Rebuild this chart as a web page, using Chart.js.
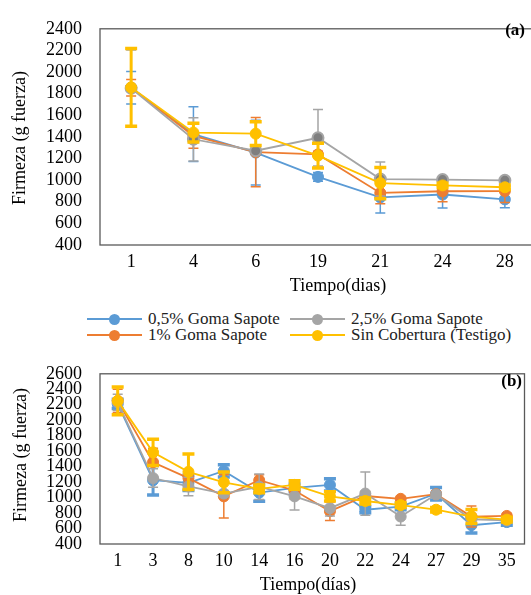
<!DOCTYPE html>
<html>
<head>
<meta charset="utf-8">
<script src="https://cdn.jsdelivr.net/npm/chart.js@4.4.1/dist/chart.umd.min.js"></script>
<style>
  html, body { margin: 0; padding: 0; background: #fff; overflow: hidden; width: 531px; height: 595px; }
  .box { position: absolute; }
  .leg { position: absolute; font: 17px "Liberation Serif", "Times New Roman", serif; color: #222; white-space: nowrap; line-height: 16px; }
  .leg .ln { display: inline-block; position: relative; width: 55px; height: 2px; vertical-align: middle; margin-right: 6px; top: -1px; }
  .leg .ln i { position: absolute; left: 22px; top: -4.5px; width: 11px; height: 11px; border-radius: 50%; }
</style>
</head>
<body>
<div class="box" style="left:0;top:0;width:560px;height:300px"><canvas id="chartA" width="560" height="300"></canvas></div>
<div class="box" style="left:0;top:345px;width:531px;height:250px"><canvas id="chartB" width="531" height="250"></canvas></div>
<div id="legend"></div>
<script>
// colours (Excel palette)
var BLUE = '#5B9BD5', ORANGE = '#ED7D31', GRAY = '#A5A5A5', YELLOW = '#FFC000';

// panel (a)
var daysA = ['1', '4', '6', '19', '21', '24', '28'];
var blueA = [1855, 1425, 1255, 1030, 840, 867, 822];
var orangeA = [1855, 1410, 1260, 1238, 882, 897, 899];
var grayA = [1850, 1378, 1272, 1392, 1010, 1005, 998];
var yellowA = [1858, 1440, 1430, 1227, 973, 951, 934];
var blueErrA = [150, 253, 300, 40, 145, 125, 78];
var orangeErrA = [77, 115, 320, 30, 100, 96, 105];
var grayErrA = [355, 200, 25, 262, 157, 20, 15];
var yellowErrA = [360, 87, 110, 115, 145, 20, 20];
var yTicksA = [400, 2400, 200];

// panel (b)
var daysB = ['1', '3', '8', '10', '14', '16', '20', '22', '24', '27', '29', '35'];
var blueB = [2210, 1224, 1190, 1345, 1064, 1125, 1164, 843, 884, 1050, 643, 683];
var orangeB = [2250, 1457, 1252, 1016, 1224, 1092, 824, 1020, 984, 1044, 755, 763];
var grayB = [2230, 1252, 1144, 1052, 1140, 1016, 863, 1052, 755, 1040, 720, 705];
var yellowB = [2250, 1585, 1333, 1197, 1112, 1164, 1016, 956, 903, 843, 755, 715];
var blueErrB = [60, 190, 100, 80, 110, 50, 80, 40, 40, 80, 100, 40];
var orangeErrB = [150, 180, 60, 280, 70, 110, 120, 60, 30, 40, 135, 30];
var grayErrB = [105, 120, 120, 40, 165, 175, 100, 280, 112, 40, 60, 30];
var yellowErrB = [180, 170, 230, 135, 50, 55, 60, 40, 30, 30, 90, 30];
var yTicksB = [400, 2600, 200];

var seriesNames = ['0,5% Goma Sapote', '1% Goma Sapote', '2,5% Goma Sapote', 'Sin Cobertura (Testigo)'];

var SERIF = '"Liberation Serif", "Times New Roman", serif';

// error bars drawn under each series, using the chart scales
var errorBars = {
    id: 'errorBars',
    beforeDatasetDraw: function(chart, args) {
        var ds = chart.data.datasets[args.index];
        if (!ds.errors) return;
        var ctx = chart.ctx, y = chart.scales.y;
        ctx.save();
        ctx.strokeStyle = ds.borderColor;
        args.meta.data.forEach(function(pt, i) {
            var hi = y.getPixelForValue(ds.data[i] + ds.errors[i]);
            var lo = y.getPixelForValue(ds.data[i] - ds.errors[i]);
            ctx.lineWidth = ds.errStem;
            ctx.beginPath();
            ctx.moveTo(pt.x, hi);
            ctx.lineTo(pt.x, lo);
            ctx.stroke();
            ctx.lineWidth = ds.errCap;
            ctx.beginPath();
            ctx.moveTo(pt.x - ds.capHalf, hi); ctx.lineTo(pt.x + ds.capHalf, hi);
            ctx.moveTo(pt.x - ds.capHalf, lo); ctx.lineTo(pt.x + ds.capHalf, lo);
            ctx.stroke();
        });
        ctx.restore();
    }
};

// frame round the plot + axis titles + panel letter
var panelText = {
    id: 'panelText',
    afterDraw: function(chart, args, o) {
        var ctx = chart.ctx, a = chart.chartArea;
        ctx.save();
        ctx.strokeStyle = '#595959';
        ctx.lineWidth = 1.3;
        ctx.strokeRect(a.left, a.top, a.right - a.left, a.bottom - a.top);
        ctx.fillStyle = '#000';
        ctx.textAlign = 'center';
        ctx.textBaseline = 'middle';
        ctx.font = '18px ' + SERIF;
        ctx.fillText(o.xTitle, o.xTitleX, o.xTitleY);
        ctx.save();
        ctx.translate(o.yTitleX, o.yTitleY);
        ctx.rotate(-Math.PI / 2);
        ctx.fillText(o.yTitle, 0, 0);
        ctx.restore();
        ctx.font = 'bold 17px ' + SERIF;
        ctx.textAlign = 'right';
        ctx.fillText(o.label, o.labelX, o.labelY);
        ctx.restore();
    }
};

function series(label, color, data, errs, thick, pointFill) {
    return {
        label: label,
        data: data,
        errors: errs,
        borderColor: color,
        backgroundColor: color,
        borderWidth: 1.8,
        pointRadius: 5.5,
        pointBorderWidth: pointFill ? 2 : 1,
        pointBackgroundColor: pointFill || color,
        pointBorderColor: color,
        pointHoverRadius: 5.5,
        errStem: thick ? 3 : 1.5,
        errCap: thick ? 3.5 : 1.5,
        capHalf: thick ? 6 : 5,
        tension: 0
    };
}

function makeChart(id, days, sets, yTicks, pad, axisH, text) {
    var tickFont = { family: SERIF, size: 18 };
    return new Chart(document.getElementById(id), {
        type: 'line',
        data: { labels: days, datasets: sets },
        options: {
            responsive: false,
            animation: false,
            events: [],
            layout: { padding: pad },
            plugins: { legend: { display: false }, tooltip: { enabled: false }, panelText: text },
            scales: {
                x: {
                    offset: true,
                    grid: { display: false, drawTicks: false, tickLength: 0 },
                    border: { display: false },
                    ticks: { font: tickFont, color: '#000', padding: 6, maxRotation: 0, autoSkip: false },
                    afterFit: function(s) { s.height = axisH; }
                },
                y: {
                    min: yTicks[0],
                    max: yTicks[1],
                    grid: { display: false, drawTicks: false, tickLength: 0 },
                    border: { display: false },
                    ticks: {
                        stepSize: yTicks[2], font: tickFont, color: '#000', padding: 18, autoSkip: false,
                        callback: function(v) { return String(v); }
                    },
                    afterFit: function(s) { s.width = 100; }
                }
            }
        },
        plugins: [errorBars, panelText]
    });
}

// draw order: blue, orange, gray, yellow (yellow on top)
var setsA = [
    series(seriesNames[3], YELLOW, yellowA, yellowErrA, true),
    series(seriesNames[2], GRAY, grayA, grayErrA, false, '#7F7F7F'),
    series(seriesNames[1], ORANGE, orangeA, orangeErrA, false),
    series(seriesNames[0], BLUE, blueA, blueErrA, false)
];
setsA.forEach(function(d, i) { d.order = i; });
makeChart('chartA', daysA, setsA, yTicksA, { top: 13, right: 24, left: 0, bottom: 0 }, 55,
    { xTitle: 'Tiempo(dias)', xTitleX: 338, xTitleY: 286, yTitle: 'Firmeza (g fuerza)', yTitleX: 20, yTitleY: 138,
      label: '(a)', labelX: 525, labelY: 31 });

var setsB = [
    series(seriesNames[3], YELLOW, yellowB, yellowErrB, true),
    series(seriesNames[2], GRAY, grayB, grayErrB, false),
    series(seriesNames[1], ORANGE, orangeB, orangeErrB, false),
    series(seriesNames[0], BLUE, blueB, blueErrB, true)
];
setsB.forEach(function(d, i) { d.order = i; });
makeChart('chartB', daysB, setsB, yTicksB, { top: 16, right: 1, left: 0, bottom: 0 }, 51,
    { xTitle: 'Tiempo(días)', xTitleX: 308, xTitleY: 240, yTitle: 'Firmeza (g fuerza)', yTitleX: 21, yTitleY: 110,
      label: '(b)', labelX: 522, labelY: 37 });

// shared legend, two columns
var legendItems = [
    { name: seriesNames[0], color: BLUE, x: 87, y: 319 },
    { name: seriesNames[2], color: GRAY, x: 290, y: 319 },
    { name: seriesNames[1], color: ORANGE, x: 87, y: 335 },
    { name: seriesNames[3], color: YELLOW, x: 290, y: 335 }
];
var legend = document.getElementById('legend');
legendItems.forEach(function(it) {
    var d = document.createElement('div');
    d.className = 'leg';
    d.style.left = it.x + 'px';
    d.style.top = (it.y - 8) + 'px';
    d.innerHTML = '<span class="ln" style="background:' + it.color + '"><i style="background:' + it.color + '"></i></span>' + it.name;
    legend.appendChild(d);
});
</script>
</body>
</html>
